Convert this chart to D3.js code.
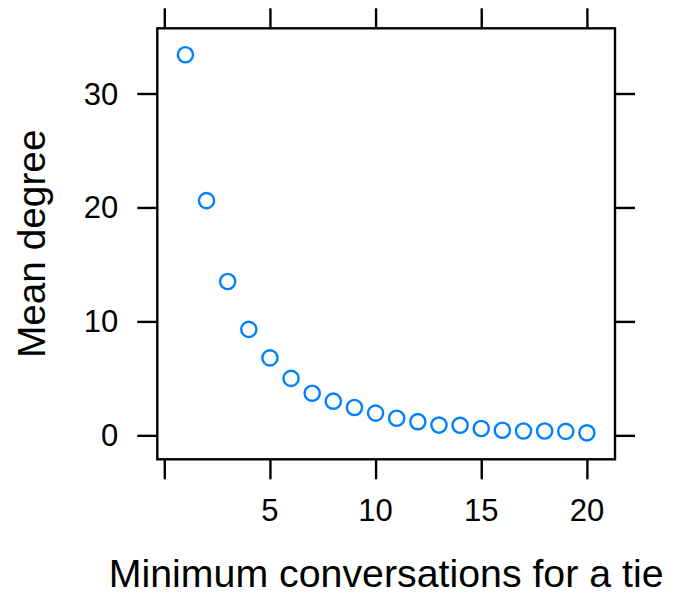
<!DOCTYPE html>
<html>
<head>
<meta charset="utf-8">
<script src="https://cdn.jsdelivr.net/npm/d3@7"></script>
<style>
  html, body { margin: 0; padding: 0; background: #fff; }
  svg { display: block; }
  text { font-family: "Liberation Sans", Arial, Helvetica, sans-serif; fill: #000; }
</style>
</head>
<body>
<script>
const minConversations = [1,2,3,4,5,6,7,8,9,10,11,12,13,14,15,16,17,18,19,20];
const meanDegree = [33.4,20.6,13.5,9.3,6.8,5.0,3.7,3.0,2.45,1.95,1.5,1.2,0.9,0.88,0.6,0.45,0.38,0.38,0.35,0.22];
const xTicks = [0,5,10,15,20];
const xTickLabels = ["","5","10","15","20"];
const yTicks = [0,10,20,30];
const yTickLabels = ["0","10","20","30"];
const xTitle = "Minimum conversations for a tie";
const yTitle = "Mean degree";

const W = 683, H = 597;
const panel = {left: 157.3, top: 28.3, right: 615, bottom: 459.3};

const svg = d3.select("body").append("svg").attr("width", W).attr("height", H);

const pad = 0.07;
const xExt = d3.extent(minConversations), yExt = d3.extent(meanDegree);
const xs = d3.scaleLinear()
  .domain([xExt[0] - pad*(xExt[1]-xExt[0]), xExt[1] + pad*(xExt[1]-xExt[0])])
  .range([panel.left, panel.right]);
const ys = d3.scaleLinear()
  .domain([yExt[0] - pad*(yExt[1]-yExt[0]), yExt[1] + pad*(yExt[1]-yExt[0])])
  .range([panel.bottom, panel.top]);

const tickLen = 20, sw = 2.4;

function styleAxis(g) {
  g.select(".domain").remove();
  g.selectAll(".tick line").attr("stroke", "#000").attr("stroke-width", sw);
  g.selectAll(".tick text").remove();
}
svg.append("g").attr("transform", `translate(0,${panel.bottom})`)
  .call(d3.axisBottom(xs).tickValues(xTicks).tickSize(tickLen)).call(styleAxis);
svg.append("g").attr("transform", `translate(0,${panel.top})`)
  .call(d3.axisTop(xs).tickValues(xTicks).tickSize(tickLen)).call(styleAxis);
svg.append("g").attr("transform", `translate(${panel.left},0)`)
  .call(d3.axisLeft(ys).tickValues(yTicks).tickSize(tickLen)).call(styleAxis);
svg.append("g").attr("transform", `translate(${panel.right},0)`)
  .call(d3.axisRight(ys).tickValues(yTicks).tickSize(tickLen)).call(styleAxis);

svg.append("rect")
  .attr("x", panel.left).attr("y", panel.top)
  .attr("width", panel.right - panel.left).attr("height", panel.bottom - panel.top)
  .attr("fill", "none").attr("stroke", "#000").attr("stroke-width", sw);

svg.append("g").selectAll("text").data(xTicks).join("text")
  .attr("x", d => xs(d)).attr("y", panel.bottom + 61.4)
  .attr("text-anchor", "middle").attr("font-size", 31)
  .text((d, i) => xTickLabels[i]);
svg.append("g").selectAll("text").data(yTicks).join("text")
  .attr("x", panel.left - 39).attr("y", d => ys(d) + 11)
  .attr("text-anchor", "end").attr("font-size", 31)
  .text((d, i) => yTickLabels[i]);

svg.append("g").selectAll("circle").data(minConversations).join("circle")
  .attr("cx", d => xs(d)).attr("cy", (d, i) => ys(meanDegree[i]))
  .attr("r", 7.6).attr("fill", "none").attr("stroke", "#0080ff").attr("stroke-width", sw);

svg.append("text")
  .attr("x", (panel.left + panel.right) / 2).attr("y", 586.7)
  .attr("text-anchor", "middle").attr("font-size", 39.3)
  .text(xTitle);
svg.append("text")
  .attr("transform", `translate(45,${(panel.top + panel.bottom) / 2}) rotate(-90)`)
  .attr("text-anchor", "middle").attr("font-size", 38.8)
  .text(yTitle);
</script>
</body>
</html>
